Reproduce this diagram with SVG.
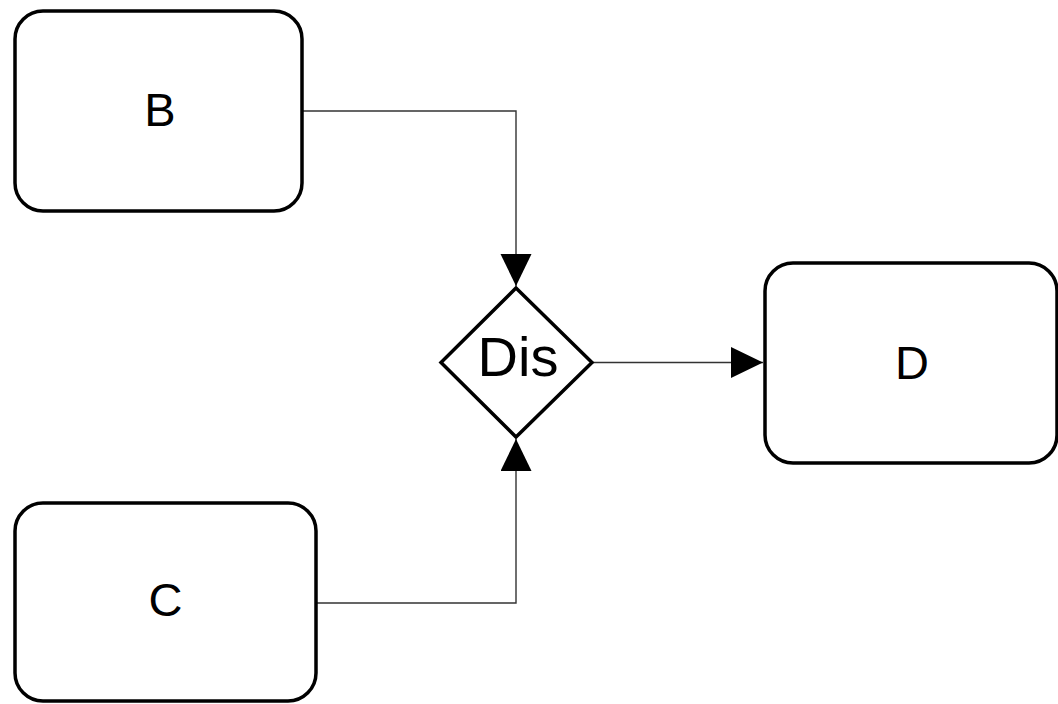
<svg xmlns="http://www.w3.org/2000/svg" width="1058" height="704" viewBox="0 0 1058 704">
<style>
.node{fill:#fff;stroke:#000;stroke-width:3.5}
.lbl{font-family:"Liberation Sans",Arial,sans-serif;font-size:47px;fill:#000;text-anchor:middle}
.big{font-size:56px}
.edge{fill:none;stroke:#333;stroke-width:1.4}
</style>
<defs>
<marker id="arr" markerUnits="userSpaceOnUse" markerWidth="34" markerHeight="32" refX="32" refY="15.5" orient="auto">
<polygon points="0,0 32,15.5 0,31" fill="#000"/>
</marker>
</defs>
<rect width="1058" height="704" fill="#fff"/>
<g id="connectors">
<path class="edge" d="M302,111 H516 V286" marker-end="url(#arr)"/>
<path class="edge" d="M316,603 H516 V439" marker-end="url(#arr)"/>
<path class="edge" d="M592,362.5 H763" marker-end="url(#arr)"/>
</g>
<g id="B">
<rect class="node" x="15" y="11" width="287" height="200" rx="28"/>
<text class="lbl" x="160" y="126">B</text>
</g>
<g id="C">
<rect class="node" x="15" y="503" width="301" height="198" rx="28"/>
<text class="lbl" x="165.5" y="616">C</text>
</g>
<g id="Dis">
<polygon class="node" points="516,288 592,362.5 516,437 441,362.5"/>
<text class="lbl big" x="518" y="376">Dis</text>
</g>
<g id="D">
<rect class="node" x="765" y="263" width="292" height="200" rx="28"/>
<text class="lbl" x="912" y="378.5">D</text>
</g>
</svg>
